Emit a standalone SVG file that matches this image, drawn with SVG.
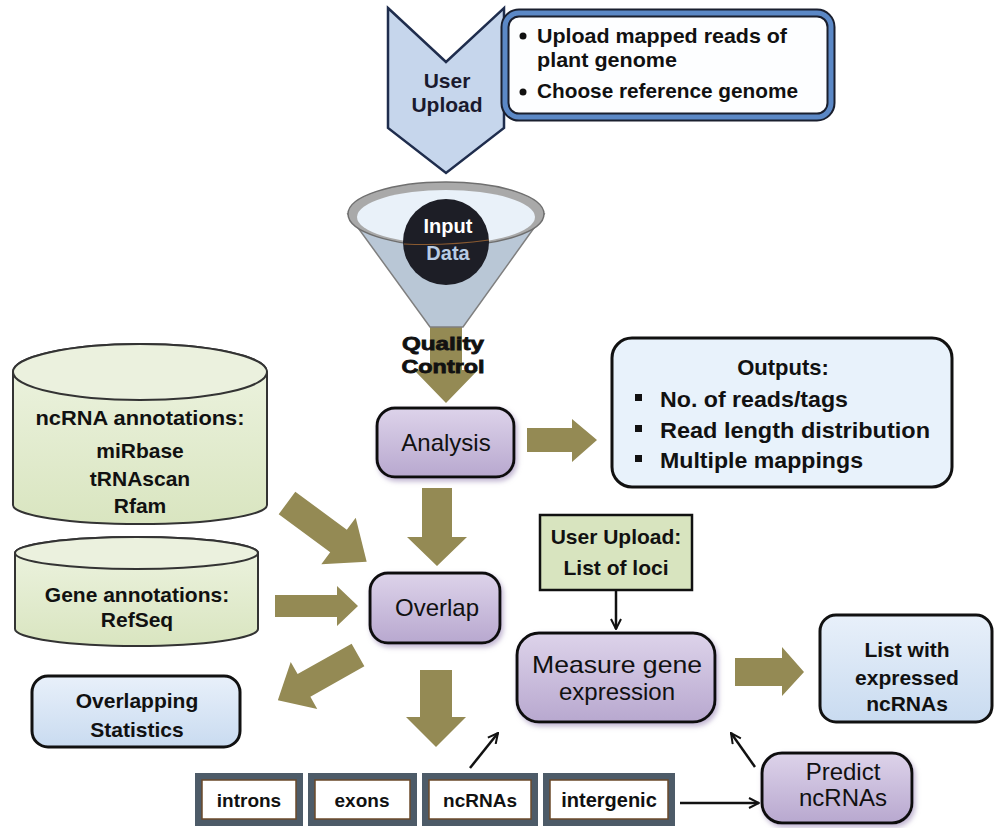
<svg xmlns="http://www.w3.org/2000/svg" width="995" height="828" viewBox="0 0 995 828">
<defs>
<style>
.b{font-family:"Liberation Sans",Arial,sans-serif;font-weight:bold;font-size:21px;fill:#111;text-anchor:middle}
.r{font-family:"Liberation Sans",Arial,sans-serif;font-size:24px;fill:#111;text-anchor:middle}
.arr{fill:#948a54}
.thin{stroke:#111;stroke-width:2.5;fill:none;marker-end:url(#open)}
.lav{fill:url(#gLav);stroke:#111;stroke-width:3;filter:url(#sh)}
.blu{fill:url(#gBlu);stroke:#111;stroke-width:3}
.cyl{fill:url(#gGrn);stroke:#333;stroke-width:2}
.cyltop{fill:#ebf1de;stroke:#333;stroke-width:2}
.outer{fill:#4d5b68}
.inner{fill:#fff;stroke:#6b4a2a;stroke-width:1.5}
</style>
<linearGradient id="gLav" x1="0" y1="0" x2="0" y2="1"><stop offset="0" stop-color="#ddd3ea"/><stop offset="1" stop-color="#b8a8cf"/></linearGradient>
<linearGradient id="gBlu" x1="0" y1="0" x2="0" y2="1"><stop offset="0" stop-color="#e8f0fa"/><stop offset="1" stop-color="#c9dbf0"/></linearGradient>
<linearGradient id="gGrn" x1="0" y1="0" x2="0" y2="1"><stop offset="0" stop-color="#eef4e2"/><stop offset="1" stop-color="#d9e5c0"/></linearGradient>
<filter id="sh" x="-20%" y="-20%" width="140%" height="150%"><feDropShadow dx="2" dy="3" stdDeviation="2.5" flood-color="#a898c0" flood-opacity="0.7"/></filter>
<marker id="open" viewBox="0 0 12 12" refX="11" refY="6" markerWidth="12" markerHeight="12" markerUnits="userSpaceOnUse" orient="auto"><path d="M1,1 L11,6 L1,11" fill="none" stroke="#111" stroke-width="2"/></marker>
</defs>
<rect width="995" height="828" fill="#fff"/>

<g id="connectors">
<polygon class="arr" points="430,293 462,293 462,370 478,370 446,403 414,370 430,370"/>
<polygon class="arr" points="527,428 572,428 572,419 597,440 572,462 572,452 527,452"/>
<polygon class="arr" points="422,488 452,488 452,537 467,537 437,566 407,537 422,537"/>
<polygon class="arr" transform="translate(287,503) rotate(36.4)" points="0,-14 64,-14 64,-29 99,0 64,29 64,14 0,14"/>
<polygon class="arr" points="275,595 337,595 337,586 358,606 337,626 337,617 275,617"/>
<polygon class="arr" transform="translate(358,655) rotate(150.6)" points="0,-13 62,-13 62,-27 92,0 62,27 62,13 0,13"/>
<polygon class="arr" points="420,670 452,670 452,717 466,717 436,747 406,717 420,717"/>
<polygon class="arr" points="735,658 782,658 782,647 804,672 782,696 782,686 735,686"/>
<line class="thin" x1="616" y1="590" x2="616" y2="629"/>
<line class="thin" x1="470" y1="768" x2="498" y2="733"/>
<line class="thin" x1="680" y1="803" x2="759" y2="803"/>
<line class="thin" x1="755" y1="767" x2="731" y2="733"/>
</g>

<g id="user-upload">
<polygon points="388,8 446,62 504,8 504,128 446,173 388,128" fill="#c6d6ec" stroke="#1f2d4d" stroke-width="2.5"/>
<text class="b" x="447" y="88" style="fill:#1a1a2e">User</text>
<text class="b" x="447" y="112" style="fill:#1a1a2e">Upload</text>
</g>

<g id="upload-box">
<rect x="505" y="13" width="326" height="104" rx="14" fill="#fdfeff" stroke="#1a1f2e" stroke-width="9"/>
<rect x="505" y="13" width="326" height="104" rx="14" fill="none" stroke="#5b88c6" stroke-width="5"/>
<circle cx="523" cy="36" r="3.5" fill="#111"/>
<circle cx="523" cy="92" r="3.5" fill="#111"/>
<text class="b" x="537" y="43" style="text-anchor:start" textLength="250" lengthAdjust="spacingAndGlyphs">Upload mapped reads of</text>
<text class="b" x="537" y="67" style="text-anchor:start" textLength="140" lengthAdjust="spacingAndGlyphs">plant genome</text>
<text class="b" x="537" y="98" style="text-anchor:start" textLength="261" lengthAdjust="spacingAndGlyphs">Choose reference genome</text>
</g>

<g id="input-data">
<polygon points="348,214 544,214 463,327 430,327" fill="#b9c7d6" stroke="#7f7f7f" stroke-width="1.5"/>
<ellipse cx="446" cy="214" rx="98" ry="32" fill="#a9a9a9" stroke="#6f6f6f" stroke-width="1.5"/>
<ellipse cx="446" cy="217" rx="89" ry="27" fill="#e9f1f9"/>
<circle cx="446" cy="242" r="43" fill="#1d1e26"/>
<path d="M404,244 Q446,246 489,240" fill="none" stroke="#8a5a30" stroke-width="1.2"/>
<text class="b" x="448" y="233" style="fill:#fff;font-weight:600;font-size:20px">Input</text>
<text class="b" x="448" y="260" style="fill:#b8cce4;font-weight:600;font-size:20px">Data</text>
</g>

<g id="quality-control">
<text class="b" x="443" y="350" style="font-size:19px;stroke:#111;stroke-width:0.8" textLength="82" lengthAdjust="spacingAndGlyphs">Quality</text>
<text class="b" x="443" y="373" style="font-size:19px;stroke:#111;stroke-width:0.8" textLength="83" lengthAdjust="spacingAndGlyphs">Control</text>
</g>

<g id="analysis">
<rect class="lav" x="377" y="408" width="137" height="69" rx="18"/>
<text class="r" x="446" y="451">Analysis</text>
</g>

<g id="outputs">
<rect x="612" y="338" width="340" height="149" rx="20" fill="#e8f2fb" stroke="#111" stroke-width="3"/>
<text class="b" x="783" y="375" style="font-size:22px">Outputs:</text>
<rect x="635" y="394" width="7" height="7" fill="#111"/>
<rect x="635" y="425" width="7" height="7" fill="#111"/>
<rect x="635" y="455" width="7" height="7" fill="#111"/>
<text class="b" x="660" y="407" style="text-anchor:start;font-size:22px" textLength="188" lengthAdjust="spacingAndGlyphs">No. of reads/tags</text>
<text class="b" x="660" y="438" style="text-anchor:start;font-size:22px" textLength="270" lengthAdjust="spacingAndGlyphs">Read length distribution</text>
<text class="b" x="660" y="468" style="text-anchor:start;font-size:22px" textLength="203" lengthAdjust="spacingAndGlyphs">Multiple mappings</text>
</g>

<g id="ncrna-annotations">
<path class="cyl" d="M13,372 A127,28 0 0 1 267,372 V505 A127,19 0 0 1 13,505 Z"/>
<ellipse class="cyltop" cx="140" cy="372" rx="127" ry="28"/>
<text class="b" x="140" y="425" textLength="209" lengthAdjust="spacingAndGlyphs">ncRNA annotations:</text>
<text class="b" x="140" y="458">miRbase</text>
<text class="b" x="140" y="486">tRNAscan</text>
<text class="b" x="140" y="513">Rfam</text>
</g>

<g id="gene-annotations">
<path class="cyl" d="M15,553 A121.5,16 0 0 1 258,553 V629 A121.5,17 0 0 1 15,629 Z"/>
<ellipse class="cyltop" cx="136.5" cy="553" rx="121.5" ry="16"/>
<text class="b" x="137" y="602">Gene annotations:</text>
<text class="b" x="137" y="627">RefSeq</text>
</g>

<g id="overlap">
<rect class="lav" x="370" y="573" width="130" height="70" rx="18"/>
<text class="r" x="437" y="616">Overlap</text>
</g>

<g id="overlapping-statistics">
<rect class="blu" x="32" y="676" width="208" height="71" rx="16"/>
<text class="b" x="137" y="708">Overlapping</text>
<text class="b" x="137" y="737">Statistics</text>
</g>

<g id="user-upload-loci">
<rect x="540" y="515" width="152" height="75" fill="#d8e4bf" stroke="#111" stroke-width="2.5"/>
<text class="b" x="616" y="544">User Upload:</text>
<text class="b" x="616" y="575">List of loci</text>
</g>

<g id="measure">
<rect class="lav" x="517" y="633" width="198" height="89" rx="22"/>
<text class="r" x="617" y="673" textLength="170" lengthAdjust="spacingAndGlyphs">Measure gene</text>
<text class="r" x="617" y="700">expression</text>
</g>

<g id="list-expressed">
<rect class="blu" x="820" y="615" width="172" height="107" rx="16"/>
<text class="b" x="907" y="657">List with</text>
<text class="b" x="907" y="685">expressed</text>
<text class="b" x="907" y="711">ncRNAs</text>
</g>

<g id="introns">
<rect class="outer" x="195" y="773" width="108" height="53"/>
<rect class="inner" x="202" y="780" width="94" height="39"/>
<text class="b" x="249" y="807" style="font-size:19px">introns</text>
</g>
<g id="exons">
<rect class="outer" x="308" y="773" width="109" height="53"/>
<rect class="inner" x="315" y="780" width="95" height="39"/>
<text class="b" x="362" y="807" style="font-size:19px">exons</text>
</g>
<g id="ncrnas">
<rect class="outer" x="422" y="773" width="116" height="53"/>
<rect class="inner" x="429" y="780" width="102" height="39"/>
<text class="b" x="480" y="807" style="font-size:19px">ncRNAs</text>
</g>
<g id="intergenic">
<rect class="outer" x="543" y="773" width="132" height="53"/>
<rect class="inner" x="550" y="780" width="118" height="39"/>
<text class="b" x="609" y="807" style="font-size:20px">intergenic</text>
</g>

<g id="predict">
<rect class="lav" x="762" y="753" width="150" height="70" rx="20"/>
<text class="r" x="843" y="780">Predict</text>
<text class="r" x="843" y="806">ncRNAs</text>
</g>
</svg>
